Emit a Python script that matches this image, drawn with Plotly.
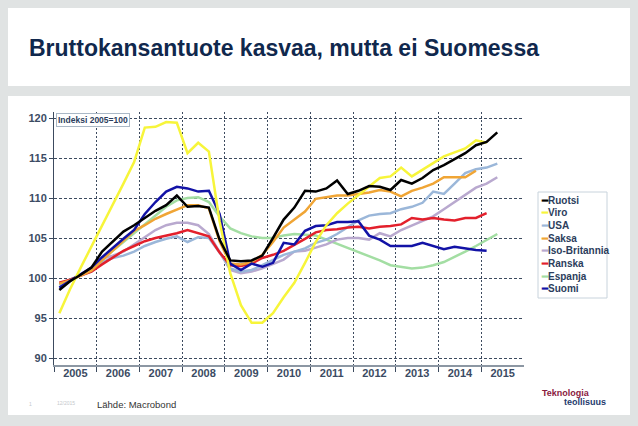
import plotly.graph_objects as go

# quarterly index, 2005 = 100 (2005Q1 .. 2015Q2)
quarters = [f"{y}Q{q}" for y in range(2005, 2016) for q in range(1, 5)][:42]

ruotsi = [98.5, 99.6, 100.4, 101.3, 103.3, 104.6, 105.8, 106.6, 107.5, 108.4, 109.1, 110.3,
          108.9, 109.0, 108.8, 104.8, 102.2, 102.1, 102.2, 102.8, 105.0, 107.3, 108.8, 110.9,
          110.8, 111.2, 112.2, 110.5, 110.9, 111.5, 111.4, 111.0, 112.25, 111.8, 112.5, 113.5,
          114.1, 114.8, 115.6, 116.6, 117.0, 118.2]
viro = [95.6, 98.6, 101.3, 103.9, 106.5, 109.2, 111.8, 114.5, 118.8, 118.9, 119.5, 119.4,
        115.6, 116.9, 115.8, 107.1, 100.6, 96.6, 94.4, 94.4, 95.6, 97.6, 99.4, 101.9,
        104.5, 106.6, 108.1, 109.3, 110.4, 111.4, 112.5, 112.7, 113.8, 112.7, 113.5, 114.3,
        115.2, 115.7, 116.2, 117.2, 116.9, None]
usa = [99.2, 99.8, 100.4, 100.8, 102.0, 102.5, 102.8, 103.3, 104.0, 104.5, 104.9, 105.2,
       104.5, 105.1, 105.0, 103.2, 101.2, 100.8, 101.0, 101.6, 102.2, 102.9, 103.3, 103.7,
       104.4, 104.8, 105.5, 106.3, 107.2, 107.8, 108.0, 108.1, 108.6, 108.9, 109.4, 110.8,
       110.5, 111.8, 113.1, 113.6, 113.8, 114.3]
saksa = [99.3, 99.7, 100.3, 100.9, 102.2, 103.4, 104.7, 105.9, 106.6, 107.4, 108.0, 108.5,
         109.1, 109.1, 108.7, 104.6, 101.8, 101.7, 102.0, 102.9, 104.5, 106.3, 107.3, 108.3,
         109.9, 110.1, 110.3, 110.3, 110.5, 110.7, 111.0, 110.8, 110.2, 110.9, 111.3, 111.8,
         112.6, 112.6, 112.6, 113.4, None, None]
iso_britannia = [99.3, 99.7, 100.4, 101.0, 102.4, 102.8, 103.3, 104.2, 105.0, 106.0, 106.6, 106.9,
                 106.9, 106.6, 105.5, 103.3, 101.0, 100.6, 100.8, 101.2, 101.7, 102.3, 103.3, 103.4,
                 103.8, 104.2, 104.8, 105.0, 105.0, 104.8, 105.6, 105.2, 106.0, 106.6, 107.2, 107.7,
                 108.6, 109.5, 110.5, 111.3, 111.8, 112.6]
ranska = [99.4, 99.8, 100.3, 100.8, 101.7, 102.5, 103.4, 104.0, 104.6, 105.0, 105.3, 105.6,
          106.0, 105.6, 105.2, 103.2, 101.6, 101.5, 101.8, 102.5, 102.9, 103.4, 104.1, 104.9,
          105.7, 106.0, 106.1, 106.3, 106.4, 106.2, 106.4, 106.5, 106.7, 107.5, 107.3, 107.5,
          107.3, 107.2, 107.5, 107.5, 108.1, None]
espanja = [99.1, 99.7, 100.4, 101.1, 102.3, 103.4, 104.5, 105.6, 106.8, 107.9, 108.9, 109.7,
           110.0, 110.1, 109.5, 107.7, 106.2, 105.6, 105.2, 105.0, 105.0, 105.3, 105.5, 105.4,
           105.3, 104.8, 104.3, 103.8, 103.3, 102.7, 102.2, 101.6, 101.4, 101.2, 101.3, 101.6,
           102.0, 102.6, 103.3, 104.0, 104.7, 105.5]
suomi = [98.8, 99.6, 100.5, 101.3, 102.6, 103.8, 104.9, 106.0, 108.0, 109.5, 110.8, 111.4,
         111.2, 110.8, 110.9, 108.0, 101.8, 101.0, 101.8, 101.4, 101.9, 104.4, 104.2, 105.9,
         106.5, 106.6, 107.0, 107.0, 107.1, 105.3, 104.8, 104.0, 104.0, 104.0, 104.4, 104.0,
         103.6, 103.9, 103.7, 103.5, 103.4, None]

years = list(range(2005, 2016))
year_labels = [str(y) for y in years]
y_ticks = [90, 95, 100, 105, 110, 115, 120]

# legend order as in the original
series = [
    ("Ruotsi", ruotsi, "#000000"),
    ("Viro", viro, "#f7f53a"),
    ("USA", usa, "#9bb7d9"),
    ("Saksa", saksa, "#f0a535"),
    ("Iso-Britannia", iso_britannia, "#b9a9cf"),
    ("Ranska", ranska, "#e3202c"),
    ("Espanja", espanja, "#a3dea3"),
    ("Suomi", suomi, "#1212a6"),
]
draw_order = ["Espanja", "Iso-Britannia", "USA", "Ranska", "Saksa", "Suomi", "Viro", "Ruotsi"]

t = [int(s[:4]) + (int(s[-1]) - 0.5) / 4 for s in quarters]

W, H = 638, 426
L, R, T, B = 54, 114, 112, 61


def px(xp):
    return (xp - L) / (W - L - R)


def py(yp):
    return (H - B - yp) / (H - T - B)


ink = "#2b3d5c"
grid = "#3c4a5e"
font = "Liberation Sans, Arial, sans-serif"

fig = go.Figure()
lookup = {name: (vals, col) for name, vals, col in series}
for name in draw_order:
    vals, col = lookup[name]
    fig.add_trace(go.Scatter(x=t, y=vals, name=name, mode="lines",
                             line=dict(color=col, width=2.5), showlegend=False))

shapes = [
    dict(type="rect", xref="paper", yref="paper", x0=px(8), x1=px(630), y0=py(86), y1=py(8),
         fillcolor="white", line=dict(width=0), layer="below"),
    dict(type="rect", xref="paper", yref="paper", x0=px(8), x1=px(630), y0=py(415), y1=py(96),
         fillcolor="white", line=dict(width=0), layer="below"),
    dict(type="rect", xref="paper", yref="paper", x0=px(538), x1=px(607), y0=py(298), y1=py(192),
         fillcolor="white", line=dict(color="#c8d3dc", width=1)),
]

annotations = [
    dict(text="Bruttokansantuote kasvaa, mutta ei Suomessa", xref="paper", yref="paper",
         x=px(27), y=py(48), xanchor="left", yanchor="middle", showarrow=False,
         font=dict(family=font, size=23, color="#10284d", weight="bold")),
    dict(text="Indeksi 2005=100", xref="paper", yref="paper", x=0, y=1, xshift=2, yshift=-1,
         xanchor="left", yanchor="top", showarrow=False, bgcolor="white",
         bordercolor="#aab8c6", borderwidth=1, borderpad=1,
         font=dict(family=font, size=8.5, color=ink, weight="bold")),
    dict(text="Lähde: Macrobond", xref="paper", yref="paper", x=px(95), y=py(404),
         xanchor="left", yanchor="middle", showarrow=False,
         font=dict(family=font, size=9.5, color="#333333")),
    dict(text="1", xref="paper", yref="paper", x=px(30), y=py(404), xanchor="center",
         yanchor="middle", showarrow=False, font=dict(family=font, size=5, color="#c4c8cc")),
    dict(text="12/2015", xref="paper", yref="paper", x=px(66), y=py(403), xanchor="center",
         yanchor="middle", showarrow=False, font=dict(family=font, size=5, color="#c4c8cc")),
    dict(text="Teknologia", xref="paper", yref="paper", x=px(540), y=py(392.5),
         xanchor="left", yanchor="middle", showarrow=False,
         font=dict(family=font, size=9, color="#8a1a3e", weight="bold")),
    dict(text="teollisuus", xref="paper", yref="paper", x=px(608), y=py(401.5),
         xanchor="right", yanchor="middle", showarrow=False,
         font=dict(family=font, size=9, color="#1f3c6e", weight="bold")),
]

# hand made legend, short line swatches like the original
for k, (name, vals, col) in enumerate(series):
    annotations.append(dict(
        text=f"<span style='color:{col}'>━</span>{name}", xref="paper", yref="paper",
        x=px(539), y=py(200 + k * 12.7), xanchor="left", yanchor="middle", showarrow=False,
        font=dict(family=font, size=10, color=ink, weight="bold")))

fig.update_layout(
    width=W, height=H, autosize=False,
    margin=dict(l=L, r=R, t=T, b=B, pad=0),
    paper_bgcolor="#e0e3e3", plot_bgcolor="white",
    shapes=shapes, annotations=annotations, showlegend=False,
    xaxis=dict(range=[2005, 2016], tickmode="array",
               tickvals=[y + 0.5 for y in years], ticktext=year_labels,
               ticks="", showgrid=False, zeroline=False, ticklabelstandoff=-3,
               showline=True, linecolor="#8c97a3", linewidth=2,
               tickfont=dict(family=font, size=11, color="#3b4b63", weight="bold"),
               minor=dict(tickmode="array", tickvals=years, ticks="outside", ticklen=5,
                          tickcolor=grid, showgrid=True, gridcolor=grid, gridwidth=1,
                          griddash="2px,2px")),
    yaxis=dict(range=[89.125, 120.75], tickmode="array", tickvals=y_ticks,
               showgrid=True, gridcolor=grid, gridwidth=1, griddash="3px,2px",
               zeroline=False, showline=True, linecolor=grid, linewidth=1,
               ticks="outside", ticklen=4, tickcolor=grid,
               tickfont=dict(family=font, size=11, color="#3b4b63", weight="bold")),
)

# the page's default 8px body margin would push the figure off its place
fig.write_html("out.html", config={"displayModeBar": False},
               post_script="document.body.style.margin='0';")
